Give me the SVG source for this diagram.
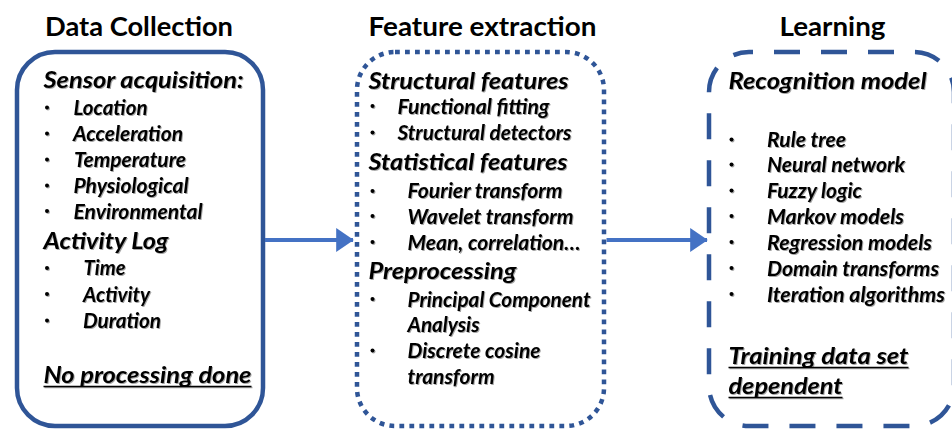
<svg xmlns="http://www.w3.org/2000/svg" width="952" height="430" viewBox="0 0 952 430">
  <defs>
    <filter id="shadow" x="-5%" y="-20%" width="110%" height="150%">
      <feDropShadow dx="1" dy="1" stdDeviation="0.6" flood-color="#000" flood-opacity="0.35"/>
    </filter>
    <marker id="head" markerWidth="5" markerHeight="6" refX="4.2" refY="3" orient="auto" markerUnits="strokeWidth">
      <path d="M0,0 L4.4,3 L0,6 Z" fill="#4472C4"/>
    </marker>
  </defs>
  <style>
    .title { font-family: Lato, "Liberation Sans", sans-serif; font-weight: bold; font-size: 26px; fill: #000; }
    .head { font-family: Lato, "Liberation Sans", sans-serif; font-weight: bold; font-style: italic; font-size: 23px; fill: #000; }
    .item { font-family: Lato, "Liberation Sans", sans-serif; font-weight: bold; font-style: italic; font-size: 20px; fill: #000; }
    .body { filter: url(#shadow); }
    .box { fill: #fff; stroke: #2F5597; stroke-width: 4.5; }
    .dot { fill: #000; }
    .ul { stroke: #000; stroke-width: 1.6; }
    .conn { stroke: #4472C4; stroke-width: 4; fill: none; }
  </style>
  <rect width="952" height="430" fill="#fff"/>

  <!-- Data collection stage -->
  <g id="data-collection">
    <text class="title" x="45" y="36" textLength="188" lengthAdjust="spacingAndGlyphs">Data Collection</text>
    <rect class="box" x="17" y="52" width="246" height="374" rx="38"/>
    <g class="body">
      <text class="head" x="43.5" y="88" textLength="200" lengthAdjust="spacingAndGlyphs">Sensor acquisition:</text>
      <text class="item" x="73.5" y="115" textLength="74" lengthAdjust="spacingAndGlyphs">Location</text>
      <text class="item" x="73" y="141" textLength="110" lengthAdjust="spacingAndGlyphs">Acceleration</text>
      <text class="item" x="74" y="167" textLength="112" lengthAdjust="spacingAndGlyphs">Temperature</text>
      <text class="item" x="73.5" y="193" textLength="115" lengthAdjust="spacingAndGlyphs">Physiological</text>
      <text class="item" x="73.5" y="218.5" textLength="129" lengthAdjust="spacingAndGlyphs">Environmental</text>
      <text class="head" x="43.5" y="248.5" textLength="125" lengthAdjust="spacingAndGlyphs">Activity Log</text>
      <text class="item" x="83.5" y="275" textLength="42" lengthAdjust="spacingAndGlyphs">Time</text>
      <text class="item" x="83" y="301.5" textLength="67" lengthAdjust="spacingAndGlyphs">Activity</text>
      <text class="item" x="83" y="328" textLength="78" lengthAdjust="spacingAndGlyphs">Duration</text>
      <text class="head" x="43.5" y="382.5" textLength="208" lengthAdjust="spacingAndGlyphs">No processing done</text>
      <line class="ul" x1="43.5" y1="386.5" x2="251.5" y2="386.5"/>
      <circle class="dot" cx="47" cy="107.5" r="2"/>
      <circle class="dot" cx="47" cy="133.5" r="2"/>
      <circle class="dot" cx="47" cy="159.5" r="2"/>
      <circle class="dot" cx="47" cy="185.5" r="2"/>
      <circle class="dot" cx="47" cy="211" r="2"/>
      <circle class="dot" cx="47" cy="268" r="2"/>
      <circle class="dot" cx="47" cy="294" r="2"/>
      <circle class="dot" cx="47" cy="320.5" r="2"/>
    </g>
  </g>

  <!-- Feature extraction stage -->
  <g id="feature-extraction">
    <text class="title" x="368.5" y="36" textLength="228" lengthAdjust="spacingAndGlyphs">Feature extraction</text>
    <rect class="box" x="357" y="52" width="247" height="374" rx="38" stroke-dasharray="4.8 5.2"/>
    <g class="body">
      <text class="head" x="368.5" y="88.5" textLength="200" lengthAdjust="spacingAndGlyphs">Structural features</text>
      <text class="item" x="397.5" y="113.5" textLength="152" lengthAdjust="spacingAndGlyphs">Functional fitting</text>
      <text class="item" x="397.5" y="140" textLength="174" lengthAdjust="spacingAndGlyphs">Structural detectors</text>
      <text class="head" x="368.5" y="170" textLength="199" lengthAdjust="spacingAndGlyphs">Statistical features</text>
      <text class="item" x="407.5" y="198" textLength="155" lengthAdjust="spacingAndGlyphs">Fourier transform</text>
      <text class="item" x="407.5" y="223.5" textLength="166" lengthAdjust="spacingAndGlyphs">Wavelet transform</text>
      <text class="item" x="407.5" y="250" textLength="173" lengthAdjust="spacingAndGlyphs">Mean, correlation…</text>
      <text class="head" x="368.5" y="279" textLength="148" lengthAdjust="spacingAndGlyphs">Preprocessing</text>
      <text class="item" x="407.5" y="306.5" textLength="183" lengthAdjust="spacingAndGlyphs">Principal Component</text>
      <text class="item" x="407.5" y="331.5" textLength="72" lengthAdjust="spacingAndGlyphs">Analysis</text>
      <text class="item" x="407.5" y="358" textLength="133" lengthAdjust="spacingAndGlyphs">Discrete cosine</text>
      <text class="item" x="407.5" y="383.5" textLength="87" lengthAdjust="spacingAndGlyphs">transform</text>
      <circle class="dot" cx="372.5" cy="106" r="2"/>
      <circle class="dot" cx="372.5" cy="132.5" r="2"/>
      <circle class="dot" cx="372.5" cy="191" r="2"/>
      <circle class="dot" cx="372.5" cy="216" r="2"/>
      <circle class="dot" cx="372.5" cy="242" r="2"/>
      <circle class="dot" cx="372.5" cy="299" r="2"/>
      <circle class="dot" cx="372.5" cy="350.5" r="2"/>
    </g>
  </g>

  <!-- Learning stage -->
  <g id="learning">
    <text class="title" x="779.5" y="36" textLength="106" lengthAdjust="spacingAndGlyphs">Learning</text>
    <rect class="box" x="709" y="52" width="245" height="374" rx="40" stroke-dasharray="26 21" stroke-dashoffset="22"/>
    <g class="body">
      <text class="head" x="728.5" y="88.5" textLength="198" lengthAdjust="spacingAndGlyphs">Recognition model</text>
      <text class="item" x="767" y="147" textLength="79" lengthAdjust="spacingAndGlyphs">Rule tree</text>
      <text class="item" x="767" y="172" textLength="138" lengthAdjust="spacingAndGlyphs">Neural network</text>
      <text class="item" x="767" y="197.5" textLength="95" lengthAdjust="spacingAndGlyphs">Fuzzy logic</text>
      <text class="item" x="767" y="223.5" textLength="137" lengthAdjust="spacingAndGlyphs">Markov models</text>
      <text class="item" x="767" y="250" textLength="165" lengthAdjust="spacingAndGlyphs">Regression models</text>
      <text class="item" x="767" y="276" textLength="172" lengthAdjust="spacingAndGlyphs">Domain transforms</text>
      <text class="item" x="767" y="302" textLength="178" lengthAdjust="spacingAndGlyphs">Iteration algorithms</text>
      <text class="head" x="728.5" y="363.5" textLength="180" lengthAdjust="spacingAndGlyphs">Training data set</text>
      <line class="ul" x1="728.5" y1="367.5" x2="908.5" y2="367.5"/>
      <text class="head" x="728.5" y="393.5" textLength="114" lengthAdjust="spacingAndGlyphs">dependent</text>
      <line class="ul" x1="728.5" y1="397.5" x2="842.5" y2="397.5"/>
      <circle class="dot" cx="731.5" cy="139.5" r="2"/>
      <circle class="dot" cx="731.5" cy="164.5" r="2"/>
      <circle class="dot" cx="731.5" cy="190.5" r="2"/>
      <circle class="dot" cx="731.5" cy="216" r="2"/>
      <circle class="dot" cx="731.5" cy="242" r="2"/>
      <circle class="dot" cx="731.5" cy="268" r="2"/>
      <circle class="dot" cx="731.5" cy="294" r="2"/>
    </g>
  </g>

  <!-- Flow between stages -->
  <g id="connectors">
    <line class="conn" x1="265" y1="240" x2="353" y2="240" marker-end="url(#head)"/>
    <line class="conn" x1="606.5" y1="240" x2="707" y2="240" marker-end="url(#head)"/>
  </g>
</svg>
